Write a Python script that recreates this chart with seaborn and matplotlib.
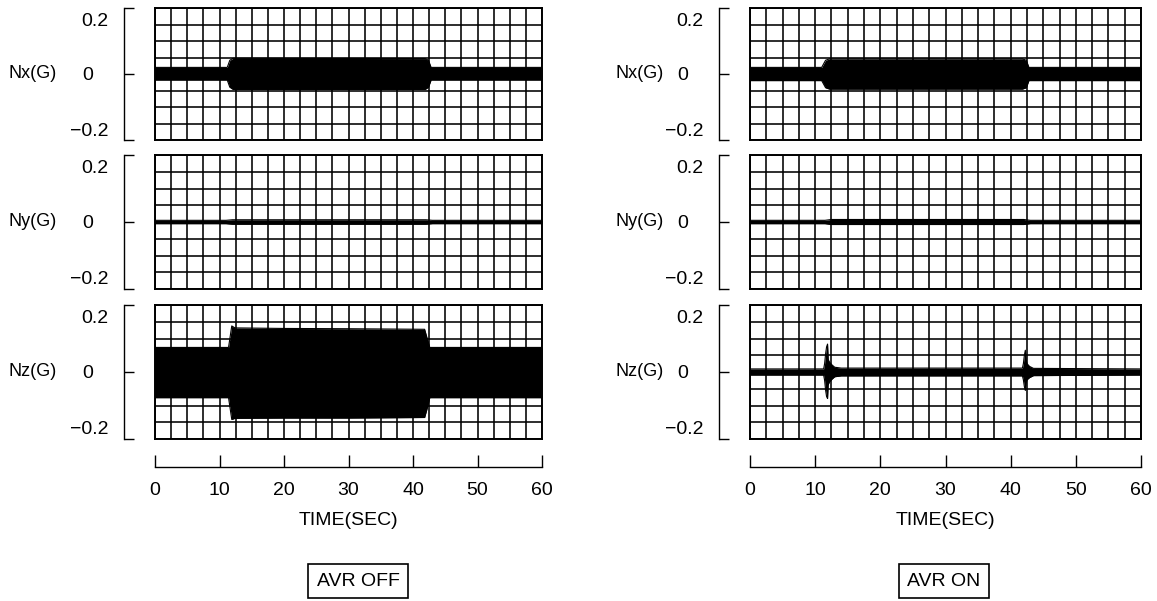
import numpy as np
import pandas as pd
import matplotlib
matplotlib.use("Agg")
import matplotlib.pyplot as plt
import seaborn as sns
from matplotlib.ticker import MultipleLocator, FixedLocator

# ---------------- data ----------------
time_ticks = [0, 10, 20, 30, 40, 50, 60]
y_ticks_outer = [-0.2, 0.2]
y_tick_labels_outer = ["\u22120.2", "0.2"]
y_ticks_zero = [0.0]
y_tick_labels_zero = ["0"]
channels = ["Nx(G)", "Ny(G)", "Nz(G)"]
panel_titles = ["AVR OFF", "AVR ON"]
x_label = "TIME(SEC)"

# AVR OFF – envelopes of the vibration traces (time in s, upper / lower bound in G)
off_nx_t = [0, 11.2, 11.6, 12.1, 41.9, 42.4, 42.8, 60]
off_nx_up = [0.024, 0.024, 0.050, 0.057, 0.056, 0.050, 0.024, 0.024]
off_nx_lo = [-0.022, -0.022, -0.048, -0.056, -0.056, -0.048, -0.022, -0.022]

off_ny_t = [0, 11.0, 12.0, 42.0, 43.0, 60]
off_ny_up = [0.006, 0.006, 0.008, 0.008, 0.006, 0.006]
off_ny_lo = [-0.006, -0.006, -0.008, -0.008, -0.006, -0.006]

off_nz_t = [0, 11.4, 11.9, 12.4, 20, 30, 41.8, 42.2, 42.6, 60]
off_nz_up = [0.088, 0.088, 0.165, 0.158, 0.156, 0.155, 0.153, 0.120, 0.088, 0.088]
off_nz_lo = [-0.092, -0.092, -0.170, -0.166, -0.165, -0.165, -0.163, -0.130, -0.092, -0.092]

# AVR ON
on_nx_t = [0, 11.0, 11.6, 12.2, 41.8, 42.4, 42.8, 60]
on_nx_up = [0.024, 0.024, 0.050, 0.055, 0.055, 0.050, 0.024, 0.024]
on_nx_lo = [-0.024, -0.024, -0.050, -0.055, -0.055, -0.050, -0.024, -0.024]

on_ny_t = [0, 11.5, 12.5, 42.0, 43.0, 60]
on_ny_up = [0.006, 0.006, 0.009, 0.009, 0.006, 0.006]
on_ny_lo = [-0.006, -0.006, -0.009, -0.009, -0.006, -0.006]

on_nz_t = [0, 11.3, 11.45, 11.6, 11.75, 11.9, 12.0, 12.2, 12.6, 13.0, 14.0, 30, 41.8, 41.95, 42.1, 42.25, 42.35, 42.5, 42.9, 43.5, 60]
on_nz_up = [0.011, 0.011, 0.030, 0.065, 0.090, 0.100, 0.045, 0.035, 0.025, 0.017, 0.014, 0.014, 0.014, 0.030, 0.060, 0.078, 0.045, 0.030, 0.020, 0.013, 0.011]
on_nz_lo = [-0.011, -0.011, -0.030, -0.065, -0.088, -0.095, -0.045, -0.035, -0.025, -0.017, -0.014, -0.014, -0.014, -0.028, -0.052, -0.066, -0.040, -0.028, -0.020, -0.013, -0.011]

traces = [
    [(off_nx_t, off_nx_up, off_nx_lo), (off_ny_t, off_ny_up, off_ny_lo), (off_nz_t, off_nz_up, off_nz_lo)],
    [(on_nx_t, on_nx_up, on_nx_lo), (on_ny_t, on_ny_up, on_ny_lo), (on_nz_t, on_nz_up, on_nz_lo)],
]

# ---------------- figure ----------------
sns.set_theme(style="white")
plt.rcParams["font.family"] = ["Liberation Sans", "DejaVu Sans"]
FS = 14
FS_CH = 13

W, H = 1157, 601
fig = plt.figure(figsize=(W / 100, H / 100), dpi=100)

col_x = [(155, 542), (750, 1141)]
row_y = [(8, 140), (155, 289), (305, 439)]
label_x = [33, 640]
box_x = [358, 944]
xaxis_y = 467


def rect(x0, y0, x1, y1):
    return [x0 / W, 1 - y1 / H, (x1 - x0) / W, (y1 - y0) / H]


for c, (x0, x1) in enumerate(col_x):
    for r, (y0, y1) in enumerate(row_y):
        ax = fig.add_axes(rect(x0, y0, x1, y1))
        ax.set_xlim(0, 60)
        ax.set_ylim(-0.24, 0.24)
        ax.set_xticks([])
        ax.set_yticks([])
        ax.xaxis.set_minor_locator(MultipleLocator(2.5))
        ax.yaxis.set_minor_locator(MultipleLocator(0.06))
        ax.tick_params(which="both", length=0, labelleft=False, labelbottom=False)
        ax.set_axisbelow(True)
        ax.grid(which="minor", color="black", lw=1.15)
        for sp in ax.spines.values():
            sp.set_visible(True)
            sp.set_color("black")
            sp.set_linewidth(1.4)

        t, up, lo = traces[c][r]
        df = pd.DataFrame({"t": t, "up": up, "lo": lo})
        ax.fill_between(df["t"], df["lo"], df["up"], color="black", lw=0, zorder=2)
        sns.lineplot(data=df, x="t", y="up", ax=ax, color="black", lw=0.8, zorder=3)
        sns.lineplot(data=df, x="t", y="lo", ax=ax, color="black", lw=0.8, zorder=3)
        ax.set_xlabel("")
        ax.set_ylabel("")

        # bracket-like value axis to the left of the chart strip
        loc = -31 / (x1 - x0)
        sec = ax.secondary_yaxis(loc)
        sec.set_yticks(y_ticks_outer, labels=y_tick_labels_outer)
        sec.yaxis.set_minor_locator(FixedLocator([-0.24, 0.0, 0.24]))
        sec.yaxis.remove_overlapping_locs = False
        sec.tick_params(which="major", length=0, pad=11, labelsize=FS, colors="black")
        sec.tick_params(which="minor", length=7, width=1.0, direction="in", color="black")
        sec.spines["left"].set_linewidth(1.0)
        sec.spines["left"].set_color("black")

        sec0 = ax.secondary_yaxis(loc)
        sec0.set_yticks(y_ticks_zero, labels=y_tick_labels_zero)
        sec0.tick_params(which="major", length=0, pad=22, labelsize=FS, colors="black")
        sec0.spines["left"].set_visible(False)

        ax.text((label_x[c] - x0) / (x1 - x0), 0.5, channels[r], transform=ax.transAxes,
                ha="center", va="center", fontsize=FS_CH, color="black")

    # time axis (bracket with ticks pointing up)
    xa = fig.add_axes(rect(x0, xaxis_y - 1, x1, xaxis_y))
    xa.set_xlim(0, 60)
    xa.set_yticks([])
    xa.set_xticks(time_ticks)
    for k in ["top", "left", "right"]:
        xa.spines[k].set_visible(False)
    xa.spines["bottom"].set_color("black")
    xa.spines["bottom"].set_linewidth(1.0)
    xa.tick_params(axis="x", bottom=True, direction="in", length=9, width=1.0, pad=11,
                   labelsize=FS, colors="black")
    xa.set_xlabel(x_label, fontsize=FS, labelpad=9, color="black")
    xa.patch.set_alpha(0)

    fig.text(box_x[c] / W, 1 - 581 / H, panel_titles[c], ha="center", va="center", fontsize=FS,
             color="black",
             bbox=dict(boxstyle="square,pad=0.45", fc="white", ec="black", lw=1.2))

fig.savefig("out.png", dpi=100, facecolor="white")
